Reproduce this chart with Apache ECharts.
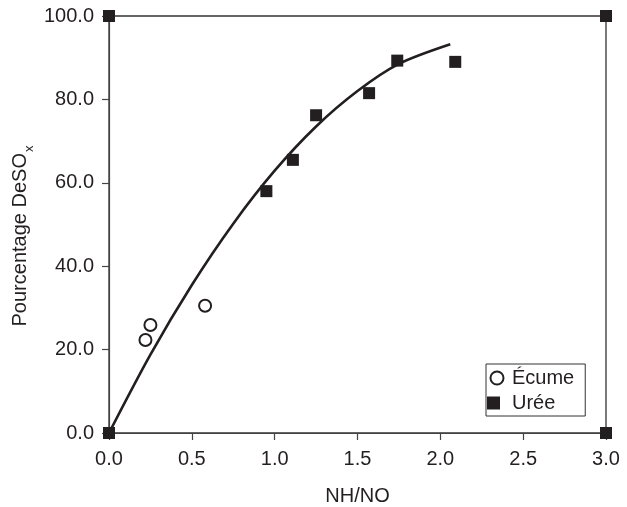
<!DOCTYPE html>
<html>
<head>
<meta charset="utf-8">
<script src="https://cdn.jsdelivr.net/npm/echarts@6/dist/echarts.min.js"></script>
<style>
html,body{margin:0;padding:0;background:#fff;}
#main{width:627px;height:507px;}
</style>
</head>
<body>
<div id="main"></div>
<script>
// Data
var ecumeX = [0.22, 0.25, 0.58];
var ecumeY = [22.3, 25.9, 30.5];
var ureeX = [0.95, 1.11, 1.25, 1.57, 1.74, 2.09];
var ureeY = [58.0, 65.5, 76.2, 81.5, 89.3, 89.0];
var cornerX = [0, 0, 3, 3];
var cornerY = [0, 100, 100, 0];
var curveX = [0, 0.25, 0.5, 0.75, 1.0, 1.25, 1.5, 1.75, 2.06];
var curveY = [0, 18.8, 35.5, 50.2, 62.9, 73.5, 82.0, 88.5, 93.2];
var xTicks = [0, 0.5, 1.0, 1.5, 2.0, 2.5, 3.0];
var yTicks = [0, 20, 40, 60, 80, 100];

function pairs(xs, ys) { return xs.map(function (x, i) { return [x, ys[i]]; }); }

var ink = '#231f20';
var font = 'Liberation Sans, Arial, sans-serif';
var chart = echarts.init(document.getElementById('main'), null, {renderer: 'canvas'});
chart.setOption({
  animation: false,
  backgroundColor: '#fff',
  textStyle: {fontFamily: font, color: ink},
  grid: {left: 109, right: 21, top: 16, bottom: 74, containLabel: false, outerBoundsMode: 'none',
         show: true, borderColor: '#333', borderWidth: 1.3, backgroundColor: 'transparent'},
  xAxis: {
    type: 'value', min: xTicks[0], max: xTicks[xTicks.length - 1], interval: 0.5,
    name: 'NH/NO', nameLocation: 'middle', nameGap: 53,
    nameTextStyle: {fontSize: 20, color: ink, fontFamily: font},
    axisLine: {show: true, lineStyle: {color: '#444', width: 1.2}},
    axisTick: {show: true, inside: false, length: 7, lineStyle: {color: '#444', width: 1.2}},
    axisLabel: {fontSize: 20, color: ink, margin: 16, formatter: function (v) { return v.toFixed(1); }},
    splitLine: {show: false}
  },
  yAxis: {
    type: 'value', min: yTicks[0], max: yTicks[yTicks.length - 1], interval: 20,
    axisLine: {show: true, lineStyle: {color: '#444', width: 1.2}},
    axisTick: {show: true, inside: false, length: 7, lineStyle: {color: '#444', width: 1.2}},
    axisLabel: {fontSize: 20, color: ink, margin: 15, formatter: function (v) { return v.toFixed(1); }},
    splitLine: {show: false}
  },
  graphic: [{
    type: 'text', x: 20.5, y: 236, rotation: Math.PI / 2,
    style: {
      text: '{a|Pourcentage DeSO}{b|x}',
      align: 'center', verticalAlign: 'middle',
      fontFamily: font, fill: ink,
      rich: {
        a: {fontSize: 20, fontFamily: font, color: ink, lineHeight: 24},
        b: {fontSize: 13, fontFamily: font, color: ink, lineHeight: 24, padding: [18, 0, 0, 1]}
      }
    }
  }],
  legend: {
    orient: 'vertical', left: 486, top: 364,
    padding: [4, 11, 3, 1],
    itemGap: 5, itemWidth: 20, itemHeight: 13,
    borderColor: '#333', borderWidth: 1, backgroundColor: '#fff',
    textStyle: {fontSize: 20, color: ink, fontFamily: font},
    data: ['Écume', 'Urée']
  },
  series: [
    {
      name: 'courbe', type: 'line', data: pairs(curveX, curveY),
      smooth: 0.3, showSymbol: false, symbol: 'none',
      lineStyle: {color: ink, width: 2.6}, z: 2, silent: true
    },
    {
      name: 'Écume', type: 'scatter', data: pairs(ecumeX, ecumeY),
      symbol: 'emptyCircle', symbolSize: 12,
      itemStyle: {color: ink, borderColor: ink, borderWidth: 2.3, opacity: 1}, z: 3
    },
    {
      name: 'Urée', type: 'scatter', data: pairs(ureeX, ureeY),
      symbol: 'square', symbolSize: 12,
      itemStyle: {color: ink, opacity: 1}, z: 3
    },
    {
      name: 'coins', type: 'scatter', data: pairs(cornerX, cornerY),
      symbol: 'square', symbolSize: 12, clip: false,
      itemStyle: {color: ink, opacity: 1}, z: 4
    }
  ]
});
</script>
</body>
</html>
